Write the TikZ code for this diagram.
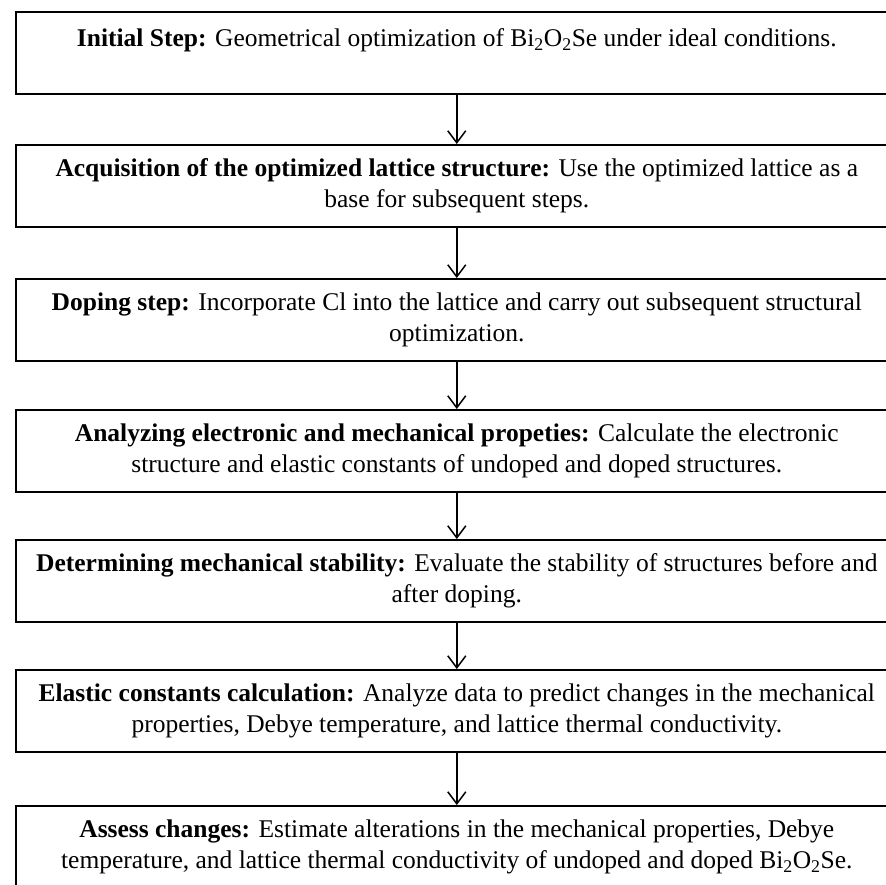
\documentclass[tikz,border=0pt]{standalone}
\usepackage{fontspec}
\setmainfont{Liberation Serif}
\usetikzlibrary{arrows.meta}
\tikzset{
  stepbox/.style={draw, line width=1.6pt, minimum width=882pt, minimum height=82pt,
    inner sep=0pt, anchor=north west, align=center,
    font=\fontsize{25.5}{31}\selectfont},
  flowarrow/.style={draw, line width=1.5pt, -{Straight Barb[length=12pt,width=18pt,line width=1.5pt]}}
}
\begin{document}
\begin{tikzpicture}[x=1pt,y=-1pt]
\useasboundingbox[fill=white] (0,0) rectangle (886,884);
\node[stepbox] (b1) at (15,11) {\textbf{Initial Step:} Geometrical optimization of Bi\textsubscript{2}O\textsubscript{2}Se under ideal conditions.\\ \mbox{}};
\node[stepbox] (b2) at (15,144) {\textbf{Acquisition of the optimized lattice structure:} Use the optimized lattice as a\\ base for subsequent steps.};
\node[stepbox] (b3) at (15,278) {\textbf{Doping step:} Incorporate Cl into the lattice and carry out subsequent structural\\ optimization.};
\node[stepbox] (b4) at (15,409) {\textbf{Analyzing electronic and mechanical propeties:} Calculate the electronic\\ structure and elastic constants of undoped and doped structures.};
\node[stepbox] (b5) at (15,539) {\textbf{Determining mechanical stability:} Evaluate the stability of structures before and\\ after doping.};
\node[stepbox] (b6) at (15,669) {\textbf{Elastic constants calculation:} Analyze data to predict changes in the mechanical\\ properties, Debye temperature, and lattice thermal conductivity.};
\node[stepbox] (b7) at (15,805) {\textbf{Assess changes:} Estimate alterations in the mechanical properties, Debye\\ temperature, and lattice thermal conductivity of undoped and doped Bi\textsubscript{2}O\textsubscript{2}Se.};
\draw[flowarrow] (b1.south) -- (b2.north);
\draw[flowarrow] (b2.south) -- (b3.north);
\draw[flowarrow] (b3.south) -- (b4.north);
\draw[flowarrow] (b4.south) -- (b5.north);
\draw[flowarrow] (b5.south) -- (b6.north);
\draw[flowarrow] (b6.south) -- (b7.north);
\end{tikzpicture}
\end{document}
